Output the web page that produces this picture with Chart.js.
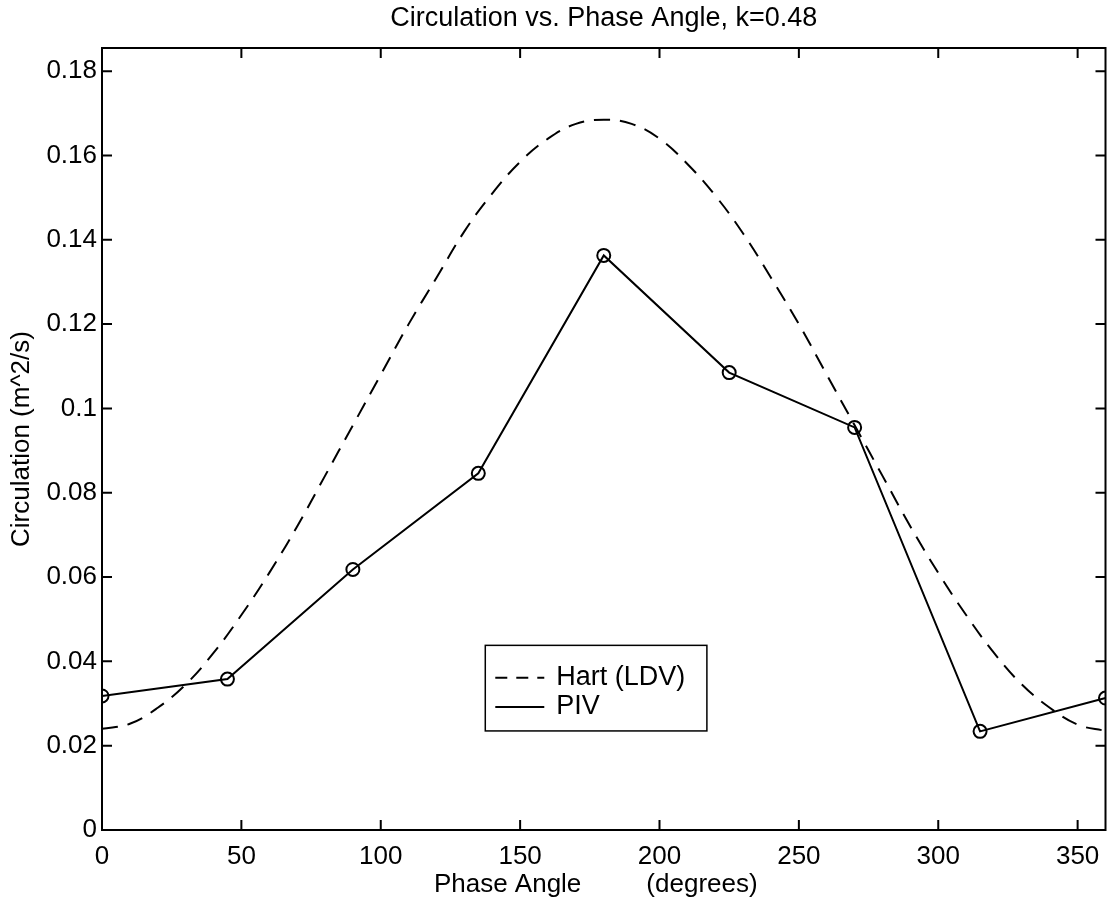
<!DOCTYPE html>
<html>
<head>
<meta charset="utf-8">
<script src="https://cdn.jsdelivr.net/npm/chart.js@4.4.1/dist/chart.umd.min.js"></script>
<style>
  html, body { margin: 0; padding: 0; background: #fff; }
  #wrap { width: 1114px; height: 906px; }
</style>
</head>
<body>
<div id="wrap"><canvas id="circChart" width="1114" height="906"></canvas></div>
<script>
// PIV measurements, one every 45 degrees
const pivAngles = [0, 45, 90, 135, 180, 225, 270, 315, 360];
const pivCirc = [0.0318, 0.0358, 0.0618, 0.0846, 0.1363, 0.1085, 0.0955, 0.0234, 0.0313];

// Hart (LDV) curve, every 10 degrees
const hartAngles = [0, 10, 20, 30, 40, 50, 60, 70, 80, 90, 100, 110, 120, 130, 140, 150, 160, 170, 180,
  190, 200, 210, 220, 230, 240, 250, 260, 270, 280, 290, 300, 310, 320, 330, 340, 350, 360];
const hartCirc = [0.0240, 0.0252, 0.0290, 0.0345, 0.0420, 0.0510, 0.0610, 0.0720, 0.0840, 0.0960,
  0.1080, 0.1200, 0.1310, 0.1420, 0.1510, 0.1585, 0.1640, 0.1675, 0.1685, 0.1675, 0.1640, 0.1580,
  0.1505, 0.1415, 0.1310, 0.1200, 0.1080, 0.0960, 0.0840, 0.0720, 0.0610, 0.0510, 0.0420, 0.0345,
  0.0290, 0.0250, 0.0235];

const xTicks = [0, 50, 100, 150, 200, 250, 300, 350];
const yTicks = [0, 0.02, 0.04, 0.06, 0.08, 0.1, 0.12, 0.14, 0.16, 0.18];

const FONT = "'Liberation Sans', Arial, Helvetica, sans-serif";

// box, inward ticks, axis titles and the legend
const matlabFrame = {
  id: "matlabFrame",
  afterDatasetsDraw(chart) {
    const { ctx, chartArea: a, scales } = chart;
    const x = scales.x;
    const y = scales.y;
    ctx.save();
    ctx.strokeStyle = "#000";
    ctx.lineWidth = 2;
    ctx.strokeRect(a.left, a.top, a.right - a.left, a.bottom - a.top);

    const tl = 10;
    ctx.beginPath();
    xTicks.forEach((v) => {
      const px = x.getPixelForValue(v);
      ctx.moveTo(px, a.bottom); ctx.lineTo(px, a.bottom - tl);
      ctx.moveTo(px, a.top); ctx.lineTo(px, a.top + tl);
    });
    yTicks.forEach((v) => {
      const py = y.getPixelForValue(v);
      ctx.moveTo(a.left, py); ctx.lineTo(a.left + tl, py);
      ctx.moveTo(a.right, py); ctx.lineTo(a.right - tl, py);
    });
    ctx.stroke();

    // axis titles
    ctx.fillStyle = "#000";
    ctx.font = "26px " + FONT;
    ctx.textAlign = "center";
    ctx.textBaseline = "middle";
    ctx.fillText("Phase Angle         (degrees)", (a.left + a.right) / 2 - 8, 885);
    ctx.save();
    ctx.translate(22, (a.top + a.bottom) / 2);
    ctx.rotate(-Math.PI / 2);
    ctx.fillText("Circulation (m^2/s)", 0, 0);
    ctx.restore();

    // legend box
    const lx0 = x.getPixelForValue(137.5), lx1 = x.getPixelForValue(217);
    const ly0 = y.getPixelForValue(0.0438), ly1 = y.getPixelForValue(0.0235);
    ctx.fillStyle = "#fff";
    ctx.fillRect(lx0, ly0, lx1 - lx0, ly1 - ly0);
    ctx.lineWidth = 1.5;
    ctx.strokeRect(lx0, ly0, lx1 - lx0, ly1 - ly0);

    const rows = [
      { label: "Hart (LDV)", dash: [12, 9], yOff: 0.38 },
      { label: "PIV", dash: [], yOff: 0.72 },
    ];
    ctx.font = "27px " + FONT;
    ctx.textAlign = "left";
    rows.forEach((r) => {
      const ry = ly0 + (ly1 - ly0) * r.yOff;
      ctx.strokeStyle = "#000";
      ctx.lineWidth = 2;
      ctx.setLineDash(r.dash);
      ctx.beginPath();
      ctx.moveTo(lx0 + 10, ry);
      ctx.lineTo(lx0 + 59, ry);
      ctx.stroke();
      ctx.setLineDash([]);
      ctx.fillStyle = "#000";
      ctx.fillText(r.label, lx0 + 71, ry);
    });
    ctx.restore();
  },
};

const ctx = document.getElementById("circChart").getContext("2d");
new Chart(ctx, {
  type: "line",
  data: {
    datasets: [
      {
        label: "Hart (LDV)",
        data: hartAngles.map((a, i) => ({ x: a, y: hartCirc[i] })),
        borderColor: "#000",
        borderWidth: 2,
        borderDash: [16, 10],
        pointRadius: 0,
        tension: 0.4,
        fill: false,
      },
      {
        label: "PIV",
        data: pivAngles.map((a, i) => ({ x: a, y: pivCirc[i] })),
        borderColor: "#000",
        borderWidth: 2,
        pointRadius: 6.5,
        pointBorderWidth: 2,
        pointBorderColor: "#000",
        pointBackgroundColor: "rgba(0,0,0,0)",
        tension: 0,
        fill: false,
      },
    ],
  },
  options: {
    responsive: false,
    animation: false,
    layout: { padding: { left: 0, right: 4, top: 0, bottom: 0 } },
    plugins: {
      legend: { display: false },
      tooltip: { enabled: false },
      title: {
        display: true,
        fullSize: false,
        text: "Circulation vs. Phase Angle, k=0.48",
        color: "#000",
        font: { family: FONT, size: 27, weight: "normal" },
        padding: { top: 2, bottom: 13.6 },
      },
    },
    scales: {
      x: {
        type: "linear",
        min: 0,
        max: 360,
        grid: { display: false, drawTicks: false },
        border: { display: false },
        afterBuildTicks: (s) => { s.ticks = xTicks.map((v) => ({ value: v })); },
        afterFit: (s) => { s.height = 76; },
        ticks: {
          color: "#000",
          font: { family: FONT, size: 26 },
          padding: 11,
          maxRotation: 0,
          autoSkip: false,
          callback: (v) => String(v),
        },
      },
      y: {
        type: "linear",
        min: 0,
        max: 0.1855,
        grid: { display: false, drawTicks: false },
        border: { display: false },
        afterBuildTicks: (s) => { s.ticks = yTicks.map((v) => ({ value: v })); },
        afterFit: (s) => { s.width = 102; },
        ticks: {
          color: "#000",
          font: { family: FONT, size: 26 },
          padding: 5,
          autoSkip: false,
          callback: (v) => String(+v.toFixed(2)),
        },
      },
    },
  },
  plugins: [matlabFrame],
});
</script>
</body>
</html>
